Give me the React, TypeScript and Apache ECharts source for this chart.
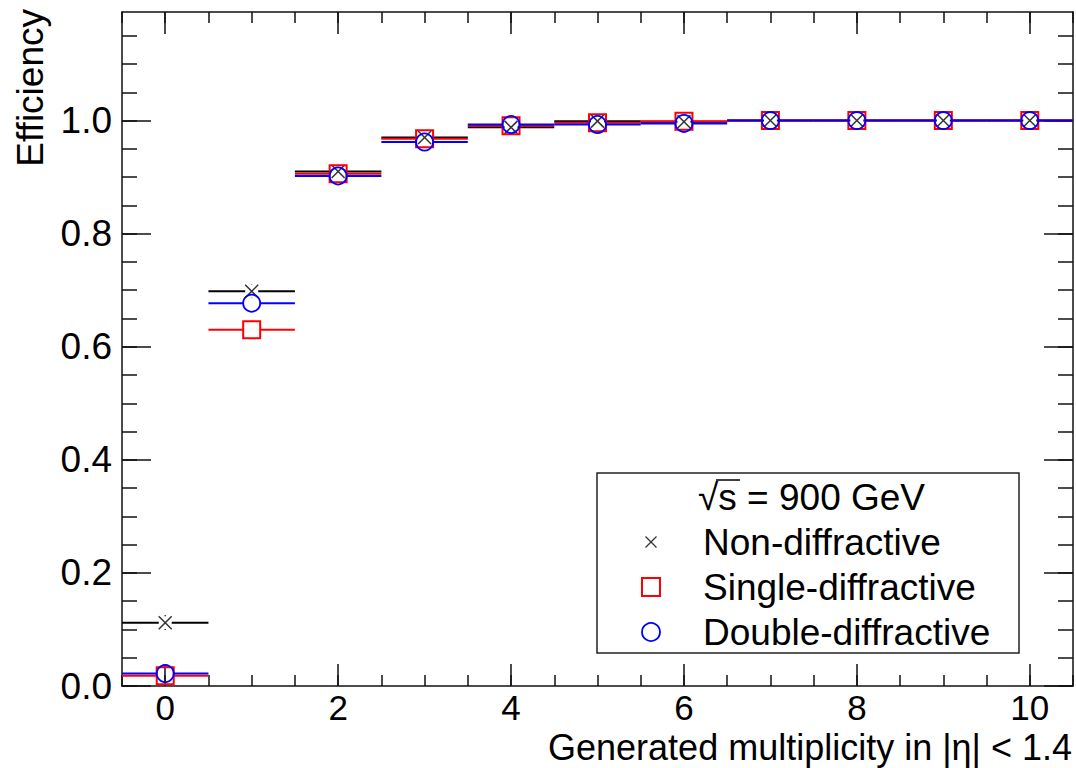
import React, { useEffect, useRef } from "react";
import * as echarts from "echarts";

// Generated multiplicity bins (bin centres, each bin is 1 wide)
const bins = [0, 1, 2, 3, 4, 5, 6, 7, 8, 9, 10];

// Trigger efficiency per process type
const nonDiffractive = [0.112, 0.698, 0.91, 0.97, 0.988, 0.999, 0.998, 1.0, 1.0, 1.0, 1.0];
const nonDiffractiveErr = [0.013, 0.012, 0.006, 0.004, 0.003, 0.002, 0.001, 0, 0, 0, 0];
const singleDiffractive = [0.018, 0.63, 0.906, 0.968, 0.991, 0.996, 0.999, 1.0, 1.0, 1.0, 1.0];
const singleDiffractiveErr = [0.016, 0.016, 0.008, 0.005, 0.003, 0.002, 0.001, 0, 0, 0, 0];
const doubleDiffractive = [0.022, 0.677, 0.902, 0.962, 0.993, 0.993, 0.995, 1.0, 1.0, 1.0, 1.0];
const doubleDiffractiveErr = [0.015, 0.012, 0.007, 0.005, 0.003, 0.002, 0.001, 0, 0, 0, 0];

// Axis ticks
const xMajorTicks = [0, 2, 4, 6, 8, 10];
const xMinorTicks = Array.from({ length: 23 }, (_, i) => -0.5 + i * 0.5);
const yMajorTicks = [0, 0.2, 0.4, 0.6, 0.8, 1.0];
const yMinorTicks = Array.from({ length: 24 }, (_, i) => +(i * 0.05).toFixed(2));

const FONT = '"Liberation Sans", Arial, Helvetica, sans-serif';
const AXIS_COLOR = "#111";

type Marker = "cross" | "square" | "circle";

function makeSeries(name: string, vals: number[], errs: number[], color: string, marker: Marker) {
  return {
    type: "custom",
    name,
    clip: true,
    xAxisIndex: 0,
    yAxisIndex: 0,
    data: bins.map((b, i) => [b, vals[i], errs[i]]),
    encode: { x: 0, y: 1 },
    renderItem: (_params: any, api: any) => {
      const x = api.value(0);
      const y = api.value(1);
      const e = api.value(2);
      const c = api.coord([x, y]);
      const l = api.coord([x - 0.5, y]);
      const r = api.coord([x + 0.5, y]);
      const t = api.coord([x, y + e]);
      const b = api.coord([x, y - e]);
      const gap = marker === "cross" ? 6.5 : 8.5;
      const ls = { stroke: color, lineWidth: 2 };
      const children: any[] = [
        { type: "line", shape: { x1: l[0], y1: c[1], x2: c[0] - gap, y2: c[1] }, style: ls },
        { type: "line", shape: { x1: c[0] + gap, y1: c[1], x2: r[0], y2: c[1] }, style: ls },
      ];
      if (c[1] - t[1] > gap) {
        children.push({ type: "line", shape: { x1: c[0], y1: c[1] - gap, x2: c[0], y2: t[1] }, style: { stroke: color, lineWidth: 1.5 } });
      }
      if (b[1] - c[1] > gap) {
        children.push({ type: "line", shape: { x1: c[0], y1: c[1] + gap, x2: c[0], y2: b[1] }, style: { stroke: color, lineWidth: 1.5 } });
      }
      if (marker === "cross") {
        const s = 6.5;
        const ms = { stroke: "#333", lineWidth: 1.5 };
        children.push({ type: "line", shape: { x1: c[0] - s, y1: c[1] - s, x2: c[0] + s, y2: c[1] + s }, style: ms });
        children.push({ type: "line", shape: { x1: c[0] - s, y1: c[1] + s, x2: c[0] + s, y2: c[1] - s }, style: ms });
      } else if (marker === "square") {
        children.push({ type: "rect", shape: { x: c[0] - 8.5, y: c[1] - 8.5, width: 17, height: 17 }, style: { fill: "none", stroke: color, lineWidth: 2 } });
      } else {
        children.push({ type: "circle", shape: { cx: c[0], cy: c[1], r: 8.5 }, style: { fill: "none", stroke: color, lineWidth: 1.8 } });
      }
      return { type: "group", children };
    },
  };
}

const lineStyle = { color: AXIS_COLOR, width: 1.5 };

function xAxisDef(position: "bottom" | "top", major: boolean) {
  return {
    type: "value",
    min: -0.5,
    max: 10.5,
    position,
    axisLine: { show: major, onZero: false, lineStyle },
    axisTick: { show: true, inside: true, length: major ? 22 : 11, customValues: major ? xMajorTicks : xMinorTicks, lineStyle },
    axisLabel: {
      show: major && position === "bottom",
      customValues: xMajorTicks,
      fontSize: 35,
      lineHeight: 28,
      fontFamily: FONT,
      color: "#000",
      margin: 7.5,
    },
    splitLine: { show: false },
  };
}

function yAxisDef(position: "left" | "right", major: boolean) {
  return {
    type: "value",
    min: 0,
    max: 1.192,
    position,
    axisLine: { show: major, onZero: false, lineStyle },
    axisTick: { show: true, inside: true, length: major ? 29 : 15, customValues: major ? yMajorTicks : yMinorTicks, lineStyle },
    axisLabel: {
      show: major && position === "left",
      customValues: yMajorTicks,
      formatter: (v: number) => v.toFixed(1),
      fontSize: 37,
      lineHeight: 30,
      fontFamily: FONT,
      color: "#000",
      margin: 10,
    },
    splitLine: { show: false },
  };
}

export default function App() {
  const ref = useRef<HTMLDivElement>(null);

  useEffect(() => {
    if (!ref.current) return;
    const chart = echarts.init(ref.current, undefined, { renderer: "svg" });
    const textStyle = { fontFamily: FONT, fontSize: 37, lineHeight: 30, fill: "#000" };
    chart.setOption({
      animation: false,
      backgroundColor: "#fff",
      grid: { left: 122, right: 3, top: 12, bottom: 82, containLabel: false },
      xAxis: [xAxisDef("bottom", true), xAxisDef("bottom", false), xAxisDef("top", true), xAxisDef("top", false)],
      yAxis: [yAxisDef("left", true), yAxisDef("left", false), yAxisDef("right", true), yAxisDef("right", false)],
      series: [
        makeSeries("Non-diffractive", nonDiffractive, nonDiffractiveErr, "#000", "cross"),
        makeSeries("Single-diffractive", singleDiffractive, singleDiffractiveErr, "#ff0000", "square"),
        makeSeries("Double-diffractive", doubleDiffractive, doubleDiffractiveErr, "#0000ff", "circle"),
      ],
      graphic: [
        // axis titles
        {
          type: "text",
          x: 1072,
          y: 747.5,
          style: { ...textStyle, fontSize: 36, text: "Generated multiplicity in |η| < 1.4", align: "right", verticalAlign: "middle" },
        },
        {
          type: "text",
          x: 30,
          y: 9,
          rotation: Math.PI / 2,
          style: { ...textStyle, text: "Efficiency", align: "right", verticalAlign: "middle" },
        },
        // legend
        {
          type: "rect",
          shape: { x: 597, y: 473, width: 422, height: 180 },
          style: { fill: "#fff", stroke: "#222", lineWidth: 1.5 },
        },
        {
          type: "text",
          x: 698,
          y: 497,
          style: { ...textStyle, text: "√s = 900 GeV", align: "left", verticalAlign: "middle" },
        },
        { type: "line", shape: { x1: 716, y1: 480, x2: 740, y2: 480 }, style: { stroke: "#000", lineWidth: 1.5 } },
        { type: "line", shape: { x1: 645.5, y1: 536.5, x2: 656.5, y2: 547.5 }, style: { stroke: "#333", lineWidth: 1.3 } },
        { type: "line", shape: { x1: 645.5, y1: 547.5, x2: 656.5, y2: 536.5 }, style: { stroke: "#333", lineWidth: 1.3 } },
        {
          type: "text",
          x: 703,
          y: 542,
          style: { ...textStyle, text: "Non-diffractive", align: "left", verticalAlign: "middle" },
        },
        { type: "rect", shape: { x: 642, y: 578, width: 18, height: 18 }, style: { fill: "none", stroke: "#ff0000", lineWidth: 2 } },
        {
          type: "text",
          x: 703,
          y: 587,
          style: { ...textStyle, text: "Single-diffractive", align: "left", verticalAlign: "middle" },
        },
        { type: "circle", shape: { cx: 651, cy: 632, r: 9 }, style: { fill: "none", stroke: "#0000ff", lineWidth: 1.8 } },
        {
          type: "text",
          x: 703,
          y: 632,
          style: { ...textStyle, text: "Double-diffractive", align: "left", verticalAlign: "middle" },
        },
      ],
    });
    return () => chart.dispose();
  }, []);

  return <div ref={ref} style={{ position: "absolute", left: 0, top: 0, width: 1076, height: 768 }} />;
}
